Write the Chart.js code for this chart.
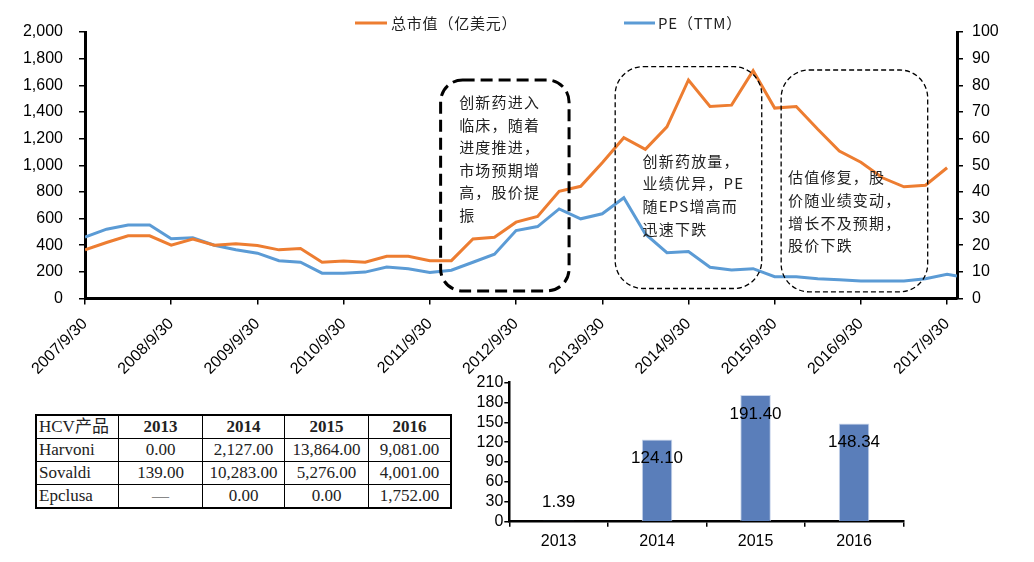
<!DOCTYPE html>
<html>
<head>
<meta charset="utf-8">
<script src="https://cdn.jsdelivr.net/npm/chart.js@4.4.0/dist/chart.umd.min.js"></script>
<style>
    html, body { margin: 0; padding: 0; background: #fff; }
    body { width: 1034px; height: 562px; position: relative; overflow: hidden; }
    #main { position: absolute; left: 0; top: 0; }
    #bars { position: absolute; left: 440px; top: 372px; }
    #hcv {
        position: absolute; left: 35px; top: 414px; table-layout: fixed;
        border-collapse: collapse; border: 2px solid #000;
        font-family: "Liberation Serif", "Noto Sans CJK SC", serif; font-size: 17px; color: #222;
    }
    #hcv td { border: 1px solid #000; height: 22px; line-height: 22px; padding: 0; text-align: center; white-space: nowrap; overflow: hidden; }
    #hcv td:first-child { text-align: left; padding-left: 2px; }
    #hcv tr:first-child td { font-weight: bold; }
    #hcv tr:first-child td:first-child { font-weight: normal; }
</style>
</head>
<body>
<canvas id="main" width="1034" height="380"></canvas>
<table id="hcv"></table>
<canvas id="bars" width="480" height="190"></canvas>
<script>
// quarter ends, 2007/9/30 .. 2017/9/30
const quarterEnds = [];
for (let y = 2007; y <= 2017; y++) {
    for (const md of ['3/31', '6/30', '9/30', '12/31']) {
        if ((y === 2007 && md !== '9/30' && md !== '12/31') || (y === 2017 && md === '12/31')) continue;
        quarterEnds.push(`${y}/${md}`);
    }
}

const marketCap = [
    365, 420, 470, 470, 400, 447, 400, 410, 397, 365,
    375, 272, 282, 272, 317, 317, 284, 284, 447, 460,
    573, 616, 805, 842, 1019, 1207, 1119, 1288, 1640, 1441,
    1451, 1710, 1429, 1441, 1270, 1107, 1023, 906, 838, 850, 981,
];
const peTTM = [
    23.0, 26.0, 27.6, 27.6, 22.4, 22.8, 20.0, 18.3, 17.0, 14.2,
    13.6, 9.5, 9.5, 9.9, 11.8, 11.2, 9.8, 10.6, 13.6, 16.6,
    25.5, 27.0, 33.6, 29.9, 31.8, 37.8, 24.2, 17.2, 17.6, 11.7,
    10.7, 11.2, 8.2, 8.2, 7.4, 7.0, 6.6, 6.6, 6.6, 7.4, 9.1,
];
// latest PE reading, a few weeks after the last quarter end
const peLatestAt = 40.46;
const peLatest = 8.4;

const leftTicks = [0, 200, 400, 600, 800, 1000, 1200, 1400, 1600, 1800, 2000];
const rightTicks = [0, 10, 20, 30, 40, 50, 60, 70, 80, 90, 100];

const hcvYears = ['2013', '2014', '2015', '2016'];
const hcvProducts = ['Harvoni', 'Sovaldi', 'Epclusa'];
const harvoniSales = ['0.00', '2,127.00', '13,864.00', '9,081.00'];
const sovaldiSales = ['139.00', '10,283.00', '5,276.00', '4,001.00'];
const epclusaSales = ['—', '0.00', '0.00', '1,752.00'];
const hcvTotal = [1.39, 124.10, 191.40, 148.34];
const hcvTicks = [0, 30, 60, 90, 120, 150, 180, 210];

const ORANGE = '#ED7D31';
const BLUE = '#5B9BD5';
const latin = '"Liberation Sans", Arial, sans-serif';
const cjk = '"Noto Sans CJK SC", sans-serif';

// table
const table = document.getElementById('hcv');
const colWidths = [79, 83, 81, 83, 81];
const rows = [
    ['HCV产品', ...hcvYears],
    [hcvProducts[0], ...harvoniSales],
    [hcvProducts[1], ...sovaldiSales],
    [hcvProducts[2], ...epclusaSales],
];
rows.forEach((r, ri) => {
    const tr = document.createElement('tr');
    r.forEach((c, i) => {
        const td = document.createElement('td');
        td.textContent = c;
        if (ri === 0) td.style.width = colWidths[i] + 'px';
        if (c === '—') td.style.color = '#888';
        tr.appendChild(td);
    });
    table.appendChild(tr);
});

// annotation boxes in data units (quarter index / left axis value)
const notes = [
    { x0: 16.5, x1: 22.46, top: 1640, bottom: 57, r: 22, w: 3, dash: [12, 6], tx: 17.36, ty: 1472,
      lines: ['创新药进入', '临床，随着', '进度推进，', '市场预期增', '高，股价提', '振'] },
    { x0: 24.6, x1: 31.4, top: 1740, bottom: 75, r: 28, w: 1.3, dash: [5, 3], tx: 25.87, ty: 1031,
      lines: ['创新药放量，', '业绩优异，PE', '随EPS增高而', '迅速下跌'] },
    { x0: 32.3, x1: 39.1, top: 1715, bottom: 50, r: 28, w: 1.3, dash: [5, 3], tx: 32.62, ty: 906,
      lines: ['估值修复，股', '价随业绩变动，', '增长不及预期，', '股价下跌'] },
];

const overlay = {
    id: 'overlay',
    afterDraw(chart) {
        const { ctx, scales } = chart;
        const sx = scales.x, sy = scales.y;
        ctx.save();
        notes.forEach((n) => {
            const l = sx.getPixelForValue(n.x0), rgt = sx.getPixelForValue(n.x1);
            const t = sy.getPixelForValue(n.top), b = sy.getPixelForValue(n.bottom);
            ctx.beginPath();
            ctx.setLineDash(n.dash);
            ctx.lineWidth = n.w;
            ctx.strokeStyle = '#000';
            ctx.roundRect(l, t, rgt - l, b - t, n.r);
            ctx.stroke();
            ctx.setLineDash([]);
            ctx.fillStyle = '#222';
            ctx.font = `15px ${cjk}`;
            ctx.letterSpacing = '1.2px';
            ctx.textBaseline = 'middle';
            ctx.textAlign = 'left';
            const x = sx.getPixelForValue(n.tx), y = sy.getPixelForValue(n.ty);
            n.lines.forEach((s, i) => ctx.fillText(s, x, y + i * 22.6));
        });
        // legend
        const items = [[355, 387, 391], [624, 655, 658]];
        chart.data.datasets.forEach((ds, i) => {
            const [a, bb, tx] = items[i];
            ctx.beginPath();
            ctx.strokeStyle = ds.borderColor;
            ctx.lineWidth = 3;
            ctx.moveTo(a, 23);
            ctx.lineTo(bb, 23);
            ctx.stroke();
            ctx.fillStyle = '#222';
            ctx.font = `15px ${cjk}`;
            ctx.letterSpacing = '0.8px';
            ctx.textBaseline = 'middle';
            ctx.fillText(ds.label, tx, 23);
        });
        ctx.restore();
    },
};

const axisGrid = { drawOnChartArea: false, drawTicks: true, tickLength: 6, color: '#000', lineWidth: 1.5 };
const axisBorder = { display: true, color: '#000', width: 3 };

new Chart(document.getElementById('main').getContext('2d'), {
    type: 'line',
    data: {
        datasets: [
            {
                label: '总市值（亿美元）',
                data: marketCap.map((v, i) => ({ x: i, y: v })),
                borderColor: ORANGE,
                borderWidth: 3,
                pointRadius: 0,
                tension: 0,
                yAxisID: 'y',
            },
            {
                label: 'PE（TTM）',
                data: [...peTTM.map((v, i) => ({ x: i, y: v })), { x: peLatestAt, y: peLatest }],
                borderColor: BLUE,
                borderWidth: 3,
                pointRadius: 0,
                tension: 0,
                yAxisID: 'y1',
            },
        ],
    },
    options: {
        responsive: false,
        animation: false,
        layout: { padding: { top: 32, left: 0, right: 0, bottom: 0 } },
        plugins: { legend: { display: false }, tooltip: { enabled: false } },
        scales: {
            x: {
                type: 'linear',
                min: 0,
                max: peLatestAt,
                afterBuildTicks: (s) => {
                    s.ticks = quarterEnds.map((q, i) => i).filter((i) => i % 4 === 0).map((v) => ({ value: v }));
                },
                ticks: {
                    autoSkip: false,
                    minRotation: 45,
                    maxRotation: 45,
                    padding: 10,
                    color: '#000',
                    font: { family: latin, size: 16 },
                    callback: (v) => quarterEnds[v],
                },
                grid: axisGrid,
                border: axisBorder,
                afterFit: (s) => { s.height = 81.5; },
            },
            y: {
                position: 'left',
                min: 0,
                max: 2000,
                afterBuildTicks: (s) => { s.ticks = leftTicks.map((v) => ({ value: v })); },
                ticks: {
                    autoSkip: false,
                    padding: 16,
                    color: '#000',
                    font: { family: latin, size: 16 },
                    callback: (v) => v.toLocaleString('en-US'),
                },
                grid: axisGrid,
                border: axisBorder,
                afterFit: (s) => { s.width = 85; },
            },
            y1: {
                position: 'right',
                min: 0,
                max: 100,
                afterBuildTicks: (s) => { s.ticks = rightTicks.map((v) => ({ value: v })); },
                ticks: {
                    autoSkip: false,
                    padding: 9,
                    color: '#000',
                    font: { family: latin, size: 16 },
                },
                grid: axisGrid,
                border: axisBorder,
                afterFit: (s) => { s.width = 77; },
            },
        },
    },
    plugins: [overlay],
});

const barLabels = {
    id: 'barLabels',
    afterDatasetsDraw(chart) {
        const { ctx } = chart;
        const meta = chart.getDatasetMeta(0);
        ctx.save();
        ctx.font = `17px ${latin}`;
        ctx.fillStyle = '#000';
        ctx.textAlign = 'center';
        ctx.textBaseline = 'middle';
        meta.data.forEach((bar, i) => {
            const h = bar.base - bar.y;
            const y = h > 40 ? bar.y + 19 : bar.y - 18;
            ctx.fillText(hcvTotal[i].toFixed(2), bar.x, y);
        });
        ctx.restore();
    },
};

new Chart(document.getElementById('bars').getContext('2d'), {
    type: 'bar',
    data: {
        labels: hcvYears,
        datasets: [
            {
                data: hcvTotal,
                backgroundColor: '#5A7EBA',
                borderColor: '#C9D6EC',
                borderWidth: 1,
                barPercentage: 0.31,
                categoryPercentage: 1,
            },
        ],
    },
    options: {
        responsive: false,
        animation: false,
        layout: { padding: { top: 10.3, right: 16.7, left: 0, bottom: 0 } },
        plugins: { legend: { display: false }, tooltip: { enabled: false } },
        scales: {
            x: {
                grid: { drawOnChartArea: false, offset: true, tickLength: 5, color: '#000', lineWidth: 1.5 },
                border: { display: true, color: '#000', width: 2.5 },
                ticks: { padding: 5, color: '#000', font: { family: latin, size: 16 } },
                afterFit: (s) => { s.height = 40.3; },
            },
            y: {
                min: 0,
                max: 210,
                afterBuildTicks: (s) => { s.ticks = hcvTicks.map((v) => ({ value: v })); },
                grid: { drawOnChartArea: false, tickLength: 5, color: '#000', lineWidth: 1.5 },
                border: { display: true, color: '#000', width: 2.5 },
                ticks: { autoSkip: false, padding: 1, color: '#000', font: { family: latin, size: 16 } },
                afterFit: (s) => { s.width = 69.3; },
            },
        },
    },
    plugins: [barLabels],
});
</script>
</body>
</html>
